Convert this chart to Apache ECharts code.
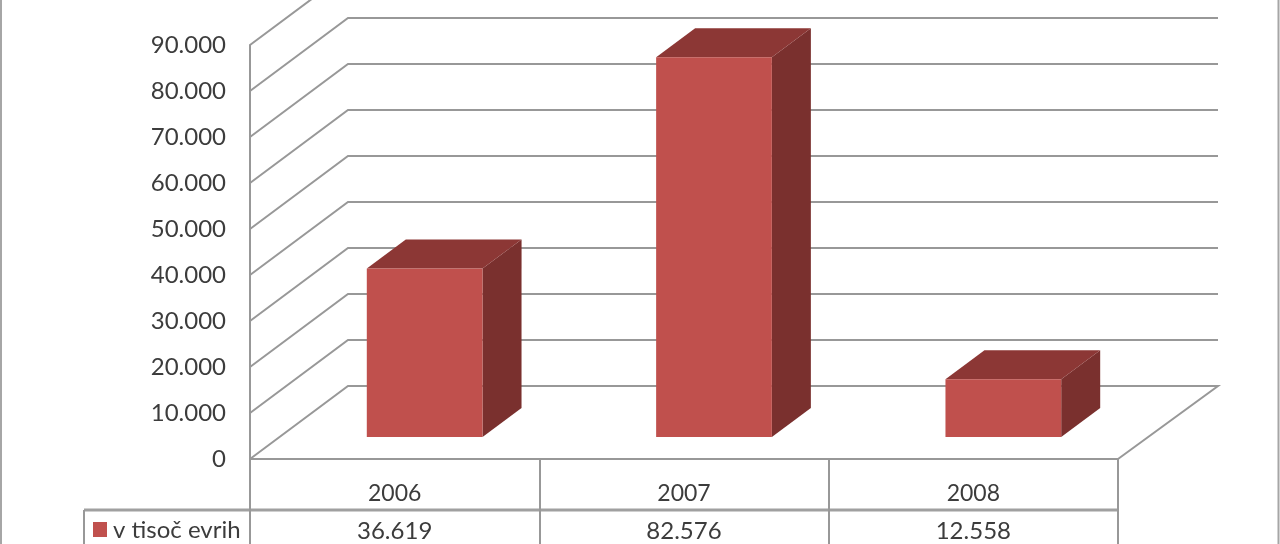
<!DOCTYPE html>
<html>
<head>
<meta charset="utf-8">
<style>
html,body{margin:0;padding:0;background:#fff;overflow:hidden}
#chart{width:1280px;height:544px;filter:blur(0.6px)}
</style>
<script src="https://cdn.jsdelivr.net/npm/echarts@6/dist/echarts.min.js"></script>
</head>
<body>
<div id="chart"></div>
<script>
const categories = ['2006', '2007', '2008'];
const seriesName = 'v tisoč evrih';
const seriesValues = [36619, 82576, 12558];
const axisTicks = [0, 10000, 20000, 30000, 40000, 50000, 60000, 70000, 80000, 90000];

const FONT = '24px Lato, Carlito, sans-serif';
const TEXT = '#3c3c3c';
const LINE = '#989898';
const WALL = { dx: 98, dy: -73 };
const BAR = { dx: 30, dy: -22, depthX: 39, depthY: -29, widthRatio: 0.4 };
const fmt = v => String(v).replace(/\B(?=(\d{3})+$)/g, '.');

const chart = echarts.init(document.getElementById('chart'), null, { renderer: 'canvas' });

function renderWall(params, api) {
  const v = api.value(1);
  const y = api.coord([0, v])[1];
  const x0 = params.coordSys.x, x1 = x0 + params.coordSys.width;
  const style = { stroke: LINE, lineWidth: 2, fill: 'none' };
  const pts = v === 0
    ? [[x0, y], [x0 + WALL.dx, y + WALL.dy], [x1 + WALL.dx + 2, y + WALL.dy], [x1, y]]
    : [[x0, y], [x0 + WALL.dx, y + WALL.dy], [x1 + WALL.dx + 2, y + WALL.dy]];
  return { type: 'polyline', shape: { points: pts }, style };
}

function renderBar(params, api) {
  const top = api.coord([api.value(0), api.value(1)]);
  const base = api.coord([api.value(0), 0]);
  const w = api.size([1, 0])[0] * BAR.widthRatio;
  const l = top[0] + BAR.dx - w / 2, r = l + w;
  const t = top[1] + BAR.dy, b = base[1] + BAR.dy;
  const dx = BAR.depthX, dy = BAR.depthY;
  return {
    type: 'group',
    children: [
      { type: 'polygon', shape: { points: [[r, t], [r + dx, t + dy], [r + dx, b + dy], [r, b]] }, style: { fill: '#7a302e' } },
      { type: 'polygon', shape: { points: [[l, t], [l + dx, t + dy], [r + dx, t + dy], [r, t]] }, style: { fill: '#8c3735' } },
      { type: 'rect', shape: { x: l, y: t, width: w, height: b - t }, style: { fill: '#c0504d' } }
    ]
  };
}

function renderTableValue(params, api) {
  const c = api.coord([api.value(0), 0]);
  return {
    type: 'text',
    style: { text: fmt(api.value(1)), x: c[0], y: c[1] + 72, align: 'center', verticalAlign: 'middle', font: FONT, fill: TEXT }
  };
}

const barData = seriesValues.map((v, i) => [i, v]);

chart.setOption({
  animation: false,
  backgroundColor: '#ffffff',
  grid: { left: 250, right: 162, top: 45, bottom: 85, containLabel: false },
  xAxis: {
    type: 'category',
    data: categories,
    axisLine: { lineStyle: { color: LINE, width: 2 } },
    axisTick: { show: true, length: 90, lineStyle: { color: LINE, width: 2 } },
    axisLabel: { margin: 23, fontFamily: 'Lato', fontSize: 23, color: TEXT }
  },
  yAxis: {
    type: 'value',
    min: 0,
    max: 90000,
    interval: 10000,
    axisLine: { show: true, lineStyle: { color: LINE, width: 2 } },
    axisTick: { show: false },
    splitLine: { show: false },
    axisLabel: { margin: 24, fontFamily: 'Lato', fontSize: 24, color: TEXT, formatter: fmt, padding: [3, 0, 0, 0] }
  },
  series: [
    { type: 'custom', name: 'grid', z: 1, silent: true, renderItem: renderWall, data: axisTicks.map(v => [0, v]), encode: { x: 0, y: 1 } },
    { type: 'custom', name: seriesName, z: 3, renderItem: renderBar, data: barData, encode: { x: 0, y: 1 } },
    { type: 'custom', name: 'table', z: 4, silent: true, renderItem: renderTableValue, data: barData, encode: { x: 0, y: 1 } }
  ],
  graphic: [
    { type: 'line', shape: { x1: 84, y1: 510, x2: 1118, y2: 510 }, style: { stroke: '#a0a0a0', lineWidth: 3 } },
    { type: 'line', shape: { x1: 84, y1: 510, x2: 84, y2: 544 }, style: { stroke: LINE, lineWidth: 2 } },
    { type: 'line', shape: { x1: 1, y1: 0, x2: 1, y2: 544 }, style: { stroke: '#a6a6a6', lineWidth: 2 } },
    { type: 'line', shape: { x1: 1278.5, y1: 0, x2: 1278.5, y2: 544 }, style: { stroke: '#a6a6a6', lineWidth: 2 } },
    { type: 'rect', shape: { x: 93, y: 522, width: 14, height: 15 }, style: { fill: '#c0504d' } },
    { type: 'text', x: 113, y: 530, style: { text: seriesName, font: FONT, fill: TEXT, verticalAlign: 'middle' } }
  ]
});
</script>
</body>
</html>
